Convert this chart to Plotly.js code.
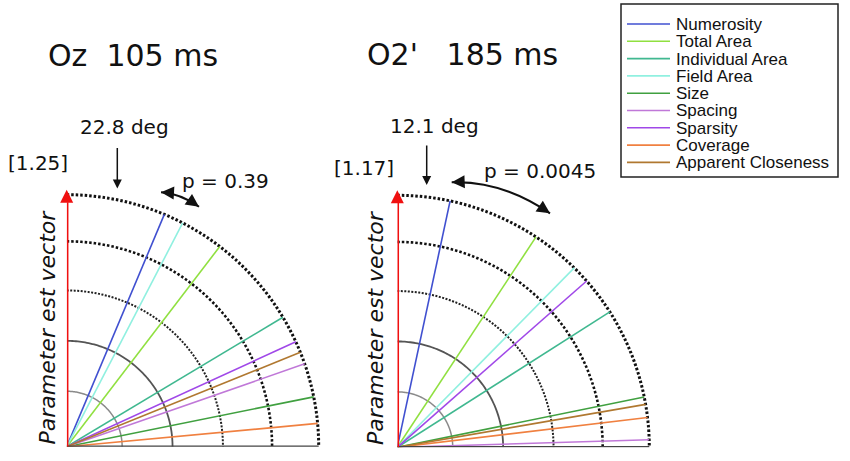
<!DOCTYPE html>
<html>
<head>
<meta charset="utf-8">
<script src="https://cdn.plot.ly/plotly-3.0.1.min.js"></script>
<style>
  html, body { margin: 0; padding: 0; background: #fff; }
  #chart { width: 850px; height: 461px; }
</style>
</head>
<body>
<div id="chart"></div>
<script>
// feature names and colours (legend order)
const features = ['Numerosity', 'Total Area', 'Individual Area', 'Field Area', 'Size',
  'Spacing', 'Sparsity', 'Coverage', 'Apparent Closeness']
const featureColors = ['#4050d0', '#90e040', '#40b890', '#90f0e0', '#40a040',
  '#c078d8', '#a048e8', '#f08040', '#b07830']

// angle of each feature vector from the parameter estimate vector (deg)
const ozAngles = [22.8, 37.4, 59.1, 27.4, 78.6, 70.8, 65.4, 84.7, 68.0]
const o2Angles = [12.1, 33.4, 57.5, 44.6, 78.5, 88.3, 48.7, 83.2, 80.2]
const vectorLength = 1.0

// reference rings
const ringRadii = [0.22, 0.42, 0.62, 0.815, 1.0]
const ringStyles = [
  { color: '#8a8a8a', width: 1.5, dash: 'solid' },
  { color: '#555555', width: 1.8, dash: 'solid' },
  { color: '#222222', width: 2, dash: '2px,1.5px' },
  { color: '#111111', width: 2.6, dash: '2.5px,2px' },
  { color: '#111111', width: 3, dash: '2.5px,2px' },
]
const arcTheta = []
for (let a = 0; a <= 90; a += 1) arcTheta.push(a)

const W = 850, H = 461
const px = x => x / W
const py = y => 1 - y / H

function panelTraces(angles, subplot) {
  const traces = []
  ringRadii.forEach((r, i) => {
    traces.push({
      type: 'scatterpolar', subplot, mode: 'lines', hoverinfo: 'skip',
      r: arcTheta.map(() => r), theta: arcTheta,
      line: ringStyles[i], showlegend: false,
    })
  })
  features.forEach((name, i) => {
    traces.push({
      type: 'scatterpolar', subplot, mode: 'lines', name,
      r: [0, vectorLength], theta: [angles[i], angles[i]],
      line: { color: featureColors[i], width: 1.6 }, showlegend: false,
    })
  })
  // baseline axis
  traces.push({
    type: 'scatterpolar', subplot, mode: 'lines', hoverinfo: 'skip',
    r: [0, 1.0], theta: [90, 90],
    line: { color: '#444444', width: 2.5 }, showlegend: false,
  })
  // parameter estimate vector
  traces.push({
    type: 'scatterpolar', subplot, mode: 'lines', hoverinfo: 'skip',
    r: [0, 0.97], theta: [0, 0],
    line: { color: '#f01010', width: 3.5 }, showlegend: false,
  })
  traces.push({
    type: 'scatterpolar', subplot, mode: 'markers', hoverinfo: 'skip',
    r: [1.02], theta: [0],
    marker: { symbol: 'arrow-up', size: 13, color: '#f01010', line: { width: 0 } },
    showlegend: false,
  })
  return traces
}

const data = [...panelTraces(ozAngles, 'polar'), ...panelTraces(o2Angles, 'polar2')]

function polarLayout(x0, y0) {
  const side = 252 * 1.05
  return {
    domain: { x: [px(x0), px(x0 + side)], y: [py(y0), py(y0 - side)] },
    sector: [0, 90],
    bgcolor: 'rgba(0,0,0,0)',
    radialaxis: { range: [0, 1.05], visible: false },
    angularaxis: { rotation: 90, direction: 'clockwise', visible: false },
  }
}

function label(text, x, y, size, extra) {
  return Object.assign({
    text, x: px(x), y: py(y), xref: 'paper', yref: 'paper',
    xanchor: 'center', yanchor: 'middle', showarrow: false,
    font: { family: 'DejaVu Sans', size, color: '#111' },
  }, extra || {})
}

function head(x, y, ax, ay) {
  return {
    text: '', x: px(x), y: py(y), xref: 'paper', yref: 'paper', ax, ay,
    showarrow: true, arrowhead: 2, arrowsize: 1.3, arrowwidth: 2, arrowcolor: '#111',
  }
}

const yLabelFont = { family: 'DejaVu Sans', size: 22, color: '#111', style: 'italic' }

const annotations = [
  label('Oz\u00a0\u00a0105 ms', 133.4, 55.5, 30),
  label('O2\'\u00a0\u00a0\u00a0185 ms', 462, 55, 30),
  label('22.8 deg', 124, 127.5, 20),
  label('[1.25]', 38, 163.5, 20),
  label('p = 0.39', 225, 180.7, 20),
  label('12.1 deg', 435, 126, 20),
  label('[1.17]', 364, 168, 20),
  label('p = 0.0045', 540, 171, 20),
  label('Parameter est vector', 47, 327.5, 22, { textangle: -90, font: yLabelFont }),
  label('Parameter est vector', 375, 328, 22, { textangle: -90, font: yLabelFont }),
  // angle arrows
  { text: '', x: px(117.3), y: py(188.5), xref: 'paper', yref: 'paper', ax: 0, ay: -42,
    showarrow: true, arrowhead: 2, arrowsize: 1.2, arrowwidth: 1.5, arrowcolor: '#111' },
  { text: '', x: px(426.7), y: py(185), xref: 'paper', yref: 'paper', ax: 0, ay: -41,
    showarrow: true, arrowhead: 2, arrowsize: 1.2, arrowwidth: 1.5, arrowcolor: '#111' },
  // p-value arrow heads
  head(161, 192.3, 10, 0.6),
  head(199, 206.7, -8.2, -5.7),
  head(451.7, 182.3, 12, -0.5),
  head(550, 213.3, -10, -6.7),
]

const shapes = [
  { type: 'path', xref: 'paper', yref: 'paper',
    path: `M ${px(161)},${py(192.3)} Q ${px(180)},${py(193.5)} ${px(199)},${py(206.7)}`,
    line: { color: '#111', width: 2 } },
  { type: 'path', xref: 'paper', yref: 'paper',
    path: `M ${px(451.7)},${py(182.3)} Q ${px(501.2)},${py(180.2)} ${px(550)},${py(213.3)}`,
    line: { color: '#111', width: 2 } },
  // legend box
  { type: 'rect', xref: 'paper', yref: 'paper',
    x0: px(621), x1: px(838), y0: py(4), y1: py(177),
    line: { color: '#222', width: 1.5 }, fillcolor: 'rgba(0,0,0,0)' },
]

features.forEach((name, i) => {
  const y = 24 + i * 17.3
  shapes.push({ type: 'line', xref: 'paper', yref: 'paper',
    x0: px(627), x1: px(670), y0: py(y), y1: py(y),
    line: { color: featureColors[i], width: 1.6 } })
  annotations.push({
    text: name, x: px(674), y: py(y + 0.5), xref: 'paper', yref: 'paper',
    xanchor: 'left', yanchor: 'middle', showarrow: false,
    font: { family: 'Liberation Sans', size: 17, color: '#111' },
  })
})

const layout = {
  width: W, height: H,
  margin: { l: 0, r: 0, t: 0, b: 0 },
  paper_bgcolor: '#ffffff',
  font: { family: 'DejaVu Sans', color: '#111' },
  showlegend: false,
  polar: polarLayout(66.7, 446.7),
  polar2: polarLayout(397.3, 447.3),
  annotations,
  shapes,
}

Plotly.newPlot('chart', data, layout, { displayModeBar: false, staticPlot: true })
</script>
</body>
</html>
